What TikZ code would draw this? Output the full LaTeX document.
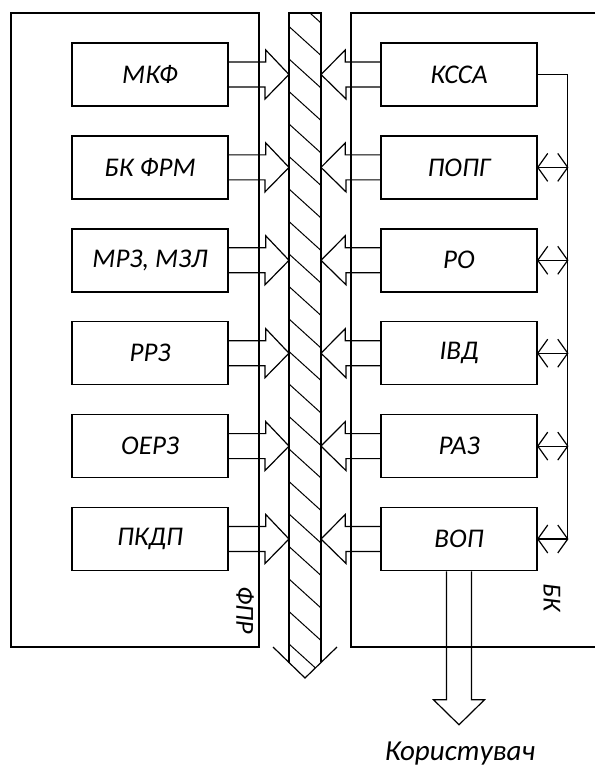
\documentclass[tikz,border=0pt]{standalone}
\usepackage{fontspec}
\setmainfont{Carlito}
\usetikzlibrary{calc}
\begin{document}
\begin{tikzpicture}[x=1pt,y=-1pt,
  blk/.style={draw, line width=1.5pt, minimum width=156pt, minimum height=63pt, inner sep=0pt,
    font=\fontsize{27}{29}\selectfont\itshape},
  frame/.style={draw, line width=1.5pt},
  ln/.style={line width=1.2pt, line join=miter},
  lbl/.style={font=\fontsize{26}{28}\selectfont\itshape, inner sep=0pt}]
\useasboundingbox (0,0) rectangle (595,767);
\fill[white] (0,0) rectangle (595,767);
% outer frames
\draw[frame] (11,13) rectangle (259,647);
\draw[frame] (595,13) -- (351,13) -- (351,647) -- (595,647);
% bus
\begin{scope}
  \clip (289,13) -- (321,13) -- (321,662) -- (305,678) -- (289,663) -- cycle;
  \foreach \i in {0,...,21} \draw[line width=1pt] (289,-6+32.5*\i) -- ++(32,29);
\end{scope}
\draw[ln] (289,663) -- (289,13) -- (321,13) -- (321,662);
\draw[ln] (273,647) -- (305,678) -- (337,647);
% blocks
\foreach \n/\t [count=\k] in {l1/МКФ, l2/БК ФРМ, l3/{МРЗ, МЗЛ}, l4/РРЗ, l5/ОЕРЗ, l6/ПКДП}
  \node[blk] (\n) at (150,74.5+92.9*\k-92.9) {\t};
\foreach \n/\t [count=\k] in {r1/КССА, r2/ПОПГ, r3/РО, r4/ІВД, r5/РАЗ, r6/ВОП}
  \node[blk] (\n) at (459,74.5+92.9*\k-92.9) {\t};
\coordinate (busW) at (289,13);
\coordinate (busE) at (321,13);
% left arrows into bus
\foreach \n in {l1,l2,l3,l4,l5,l6} {
  \draw[ln] ($(\n.east)+(0,-12.5)$) -- ++(37,0) -- ++(0,-12) -- (\n.east -| busW) -- ++(-24,24.5) -- ++(0,-12) -- ($(\n.east)+(0,12.5)$);
}
% right arrows into bus
\foreach \n in {r1,r2,r3,r4,r5,r6} {
  \draw[ln] ($(\n.west)+(0,-12.5)$) -- ++(-35,0) -- ++(0,-12) -- (\n.west -| busE) -- ++(25,24.5) -- ++(0,-12) -- ($(\n.west)+(0,12.5)$);
}
% right control line
\coordinate (vb) at ($(r6.east)+(30,0)$);
\draw[ln] (r1.east) -| (vb);
\foreach \n in {r2,r3,r4,r5,r6} {
  \draw[ln] (\n.east) -- (\n.east -| vb);
  \draw[ln] ($(\n.east)+(10,-14)$) -- (\n.east) -- ($(\n.east)+(10,14)$);
  \draw[ln] ($(\n.east -| vb)+(-10,-14)$) -- (\n.east -| vb) -- ($(\n.east -| vb)+(-10,14)$);
}
% output arrow
\node[font=\fontsize{29}{31}\selectfont\itshape, inner sep=0pt, anchor=base] (user) at (460,760) {Користувач};
\draw[ln] ($(r6.south)+(-12.5,0)$) -- ++(0,128.5) -- ++(-13,0) -- ($(r6.south)+(0,153.5)$) -- ++(25.5,-25) -- ++(-13,0) -- ($(r6.south)+(12.5,0)$);
% labels
\node[lbl, rotate=-90] (fpr) at (245,610) {ФПР};
\node[lbl, rotate=-90] (bk) at (552,598) {БК};
\end{tikzpicture}
\end{document}
